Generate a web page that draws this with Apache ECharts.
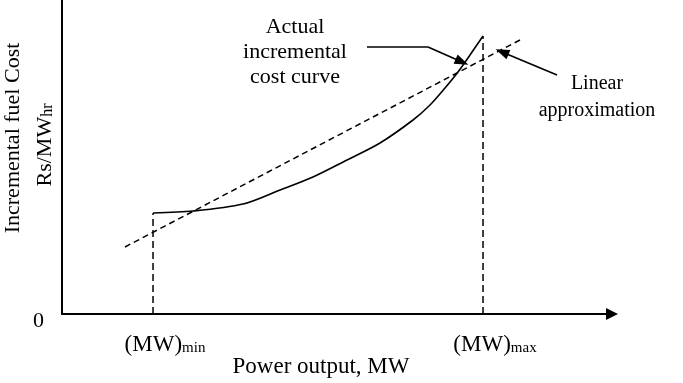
<!DOCTYPE html>
<html><head><meta charset="utf-8">
<script src="https://cdn.jsdelivr.net/npm/echarts@6/dist/echarts.min.js"></script>
<style>html,body{margin:0;padding:0;background:#fff}#c{width:683px;height:383px}</style>
</head><body><div id="c"></div>
<script>
// Actual incremental cost curve (x: power output, y: incremental cost; arbitrary units 0-100)
const curveX = [16.55, 23.82, 32.91, 39.64, 45.64, 51.82, 57.82, 63.82, 66.91, 69.64, 72.00, 74.18, 76.55];
const curveY = [32.17, 32.80, 35.03, 39.49, 43.63, 49.04, 54.46, 61.78, 66.56, 71.97, 77.07, 82.48, 88.54];
// Linear approximation end points
const linearX = [11.45, 83.27];
const linearY = [21.34, 87.26];
// Generator limits
const mwMin = 16.55, mwMax = 76.55;
const costAtMin = 32.17, costAtMax = 88.54;
// Tick labels
const xTickLabels = [['(MW)', 'min'], ['(MW)', 'max']];
const yTickLabels = ['0'];
// Annotation arrows (data coordinates)
const actualArrowX = [55.45, 66.55, 72.73];
const actualArrowY = [85.03, 85.03, 80.25];
const linearArrowX = [90.0, 80.0];
const linearArrowY = [76.11, 83.44];

const zip = (xs, ys) => xs.map((x, i) => [x, ys[i]]);
const FONT = '"Liberation Serif", "DejaVu Serif", serif';
const chart = echarts.init(document.getElementById('c'));
const black = '#000';

chart.setOption({
  animation: false,
  backgroundColor: '#fff',
  grid: { left: 62, top: 0, width: 550, height: 314, containLabel: false, outerBoundsMode: 'none' },
  xAxis: {
    type: 'value', min: 0, max: 100,
    axisLine: { show: true, lineStyle: { color: black, width: 2 }, symbol: ['none', 'triangle'], symbolSize: [12, 12] },
    axisTick: { show: false },
    splitLine: { show: false },
    axisLabel: {
      customValues: [mwMin, mwMax],
      margin: 18,
      padding: [0, 0, 0, 24],
      formatter: v => {
        const l = Math.abs(v - mwMin) < 0.01 ? xTickLabels[0] : xTickLabels[1];
        return '{m|' + l[0] + '}{s|' + l[1] + '}';
      },
      rich: {
        m: { fontFamily: FONT, fontSize: 23, color: black, verticalAlign: 'bottom', lineHeight: 24 },
        s: { fontFamily: FONT, fontSize: 15, color: black, verticalAlign: 'bottom', lineHeight: 20 }
      }
    },
    name: 'Power output, MW',
    nameLocation: 'middle',
    nameGap: 41,
    nameMoveOverlap: false,
    nameTextStyle: { fontFamily: FONT, fontSize: 23, color: black, padding: [0, 32, 0, 0] }
  },
  yAxis: {
    type: 'value', min: 0, max: 100, interval: 100,
    axisLine: { show: true, lineStyle: { color: black, width: 2 } },
    axisTick: { show: false },
    splitLine: { show: false },
    axisLabel: {
      margin: 18,
      fontFamily: FONT, fontSize: 22, color: black,
      verticalAlign: 'top', lineHeight: 14,
      formatter: v => (v === 0 ? yTickLabels[0] : '')
    },
    name: '{a|Incremental fuel Cost}\n{b|Rs/MW}{c|hr}',
    nameLocation: 'middle',
    nameRotate: 90,
    nameGap: 6,
    nameMoveOverlap: false,
    nameTextStyle: {
      padding: [0, 0, 0, 38],
      rich: {
        a: { fontFamily: FONT, fontSize: 22, color: black, lineHeight: 30 },
        b: { fontFamily: FONT, fontSize: 22, color: black, lineHeight: 28, verticalAlign: 'bottom' },
        c: { fontFamily: FONT, fontSize: 16, color: black, lineHeight: 24, verticalAlign: 'bottom', padding: [0, 14, 0, 0] }
      }
    }
  },
  series: [
    {
      type: 'line', data: zip(curveX, curveY), smooth: 0.3, showSymbol: false, symbol: 'none',
      lineStyle: { color: black, width: 1.6 }
    },
    {
      type: 'line', data: zip(linearX, linearY), showSymbol: false, symbol: 'none',
      lineStyle: { color: black, width: 1.5, type: [6, 4] }
    },
    {
      type: 'line', data: [[mwMin, 0], [mwMin, costAtMin]], showSymbol: false, symbol: 'none',
      lineStyle: { color: black, width: 1.5, type: [7, 4] }
    },
    {
      type: 'line', data: [[mwMax, 0], [mwMax, costAtMax]], showSymbol: false, symbol: 'none',
      lineStyle: { color: black, width: 1.5, type: [7, 4] }
    },
    {
      type: 'line', data: zip(actualArrowX.slice(0, 2), actualArrowY.slice(0, 2)), showSymbol: false, symbol: 'none',
      lineStyle: { color: black, width: 1.6 },
      markLine: {
        silent: true, animation: false,
        symbol: ['none', 'triangle'], symbolSize: [10, 14],
        label: { show: false },
        lineStyle: { color: black, width: 1.6, type: 'solid' },
        data: [
          [{ coord: [actualArrowX[1], actualArrowY[1]] }, { coord: [actualArrowX[2], actualArrowY[2]] }],
          [{ coord: [linearArrowX[0], linearArrowY[0]] }, { coord: [linearArrowX[1], linearArrowY[1]] }]
        ]
      }
    }
  ],
  graphic: [
    {
      type: 'text', x: 295, y: 52,
      style: { text: 'Actual\nincremental\ncost curve', x: 0, y: 0, font: '22px ' + FONT, fontFamily: FONT, fontSize: 22,
        fill: black, align: 'center', verticalAlign: 'middle', textAlign: 'center', textVerticalAlign: 'middle', lineHeight: 25 }
    },
    {
      type: 'text', x: 597, y: 97,
      style: { text: 'Linear\napproximation', x: 0, y: 0, font: '20px ' + FONT, fontFamily: FONT, fontSize: 20,
        fill: black, align: 'center', verticalAlign: 'middle', textAlign: 'center', textVerticalAlign: 'middle', lineHeight: 27 }
    }
  ]
});
</script>
</body></html>
